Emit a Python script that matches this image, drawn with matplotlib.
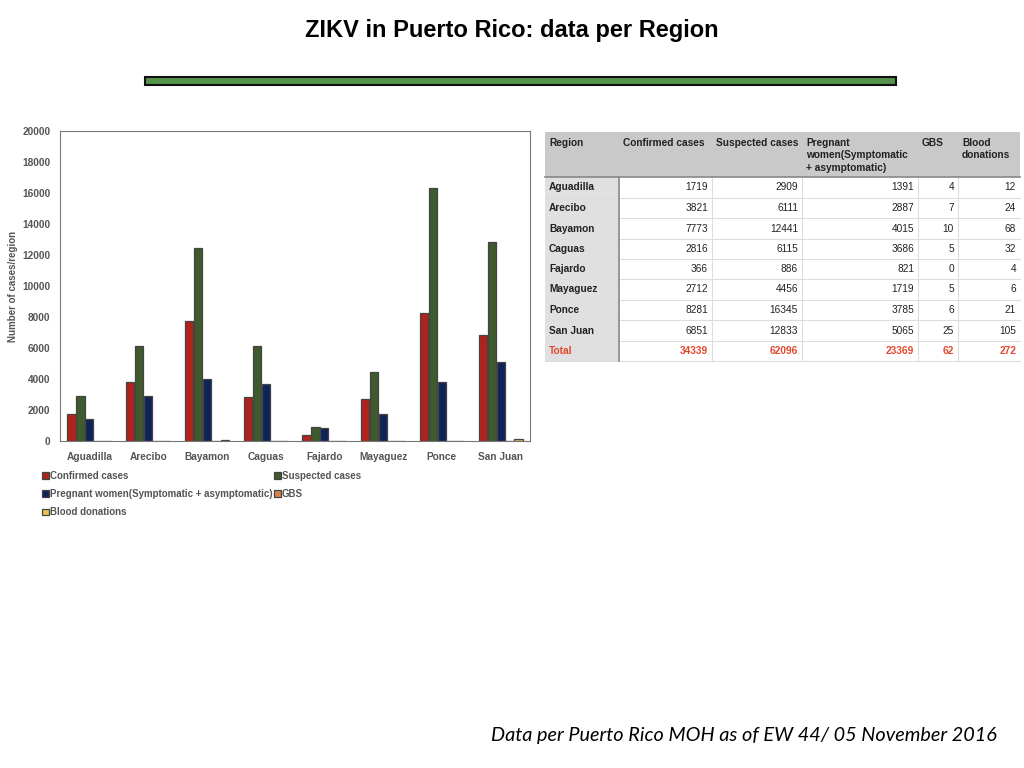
import matplotlib.pyplot as plt
import numpy as np
from matplotlib.patches import Rectangle

regions = ['Aguadilla', 'Arecibo', 'Bayamon', 'Caguas', 'Fajardo',
           'Mayaguez', 'Ponce', 'San Juan']
confirmed = [1719, 3821, 7773, 2816, 366, 2712, 8281, 6851]
suspected = [2909, 6111, 12441, 6115, 886, 4456, 16345, 12833]
pregnant = [1391, 2887, 4015, 3686, 821, 1719, 3785, 5065]
gbs = [4, 7, 10, 5, 0, 5, 6, 25]
blood = [12, 24, 68, 32, 4, 6, 21, 105]

series_names = ['Confirmed cases', 'Suspected cases',
                'Pregnant women(Symptomatic + asymptomatic)', 'GBS',
                'Blood donations']
series = [confirmed, suspected, pregnant, gbs, blood]
colors = ['#b0231c', '#3f5a2c', '#0e2358', '#d9844c', '#e9c450']

table_header = ['Region', 'Confirmed cases', 'Suspected cases',
                'Pregnant\nwomen(Symptomatic\n+ asymptomatic)', 'GBS',
                'Blood\ndonations']
totals = [sum(s) for s in series]

W, H = 1024, 768
plt.rcParams['font.family'] = ['Liberation Sans', 'DejaVu Sans']
fig = plt.figure(figsize=(W / 100, H / 100), dpi=100)

# title and green banner
fig.text(512 / W, 1 - 30 / H, 'ZIKV in Puerto Rico: data per Region',
         ha='center', va='center', fontsize=17, fontweight='bold')
fig.patches.append(Rectangle((145 / W, 1 - 85 / H), 751 / W, 8 / H,
                             transform=fig.transFigure, facecolor='#55924a',
                             edgecolor='#111111', linewidth=1.5))

# bar chart
ax = fig.add_axes([60 / W, 1 - 441 / H, 470 / W, 310 / H])
x = np.arange(len(regions))
bw = 0.14
step = 0.152
for i, (name, vals, c) in enumerate(zip(series_names, series, colors)):
    ax.bar(x + (i - 2) * step, vals, bw, color=c, edgecolor='#444444',
           linewidth=0.9, label=name)
ax.set_xlim(-0.5, len(regions) - 0.5)
ax.set_ylim(0, 20000)
ax.set_yticks(np.arange(0, 20001, 2000))
ax.set_xticks(x)
ax.set_xticklabels(regions)
ax.tick_params(axis='both', length=0, labelsize=7.3, labelcolor='#555555', pad=7)
for lab in ax.get_xticklabels() + ax.get_yticklabels():
    lab.set_fontweight('bold')
ax.tick_params(axis='x', pad=8)
ax.set_ylabel('Number of cases/region', fontsize=7, color='#555555',
              fontweight='bold', labelpad=3)
for sp in ax.spines.values():
    sp.set_color('#777777')
    sp.set_linewidth(0.8)

handles, labels = ax.get_legend_handles_labels()
order = [0, 2, 4, 1, 3]
leg = fig.legend([handles[k] for k in order], [labels[k] for k in order],
                 loc='upper left', bbox_to_anchor=(38 / W, 1 - 467 / H),
                 ncol=2, frameon=False, fontsize=7, handlelength=0.7,
                 handleheight=0.7, handletextpad=0.15, columnspacing=0.1,
                 labelspacing=0.85, borderaxespad=0)
for t in leg.get_texts():
    t.set_color('#555555')
    t.set_fontweight('bold')

# data table
col_edges = [545, 619, 712, 802, 918, 958, 1020]
row_edges = [132, 177, 198, 218, 239, 259, 279, 300, 320, 341, 361]
tax = fig.add_axes([0, 0, 1, 1])
tax.set_xlim(0, W)
tax.set_ylim(H, 0)
tax.axis('off')

tax.add_patch(Rectangle((col_edges[0], row_edges[0]),
                        col_edges[-1] - col_edges[0], row_edges[1] - row_edges[0],
                        facecolor='#c9c9c9', edgecolor='none'))
tax.add_patch(Rectangle((col_edges[0], row_edges[1]),
                        col_edges[1] - col_edges[0], row_edges[-1] - row_edges[1],
                        facecolor='#e0e0e0', edgecolor='none'))
for yy in row_edges[2:]:
    tax.plot([col_edges[0], col_edges[-1]], [yy, yy], color='#dddddd', lw=0.8)
for xx in col_edges[2:-1]:
    tax.plot([xx, xx], [row_edges[1], row_edges[-1]], color='#dddddd', lw=0.8)
tax.plot([col_edges[0], col_edges[-1]], [row_edges[1], row_edges[1]],
         color='#888888', lw=1.2)
tax.plot([col_edges[1], col_edges[1]], [row_edges[1], row_edges[-1]],
         color='#888888', lw=1.2)

for j, h in enumerate(table_header):
    tax.text(col_edges[j] + 4, row_edges[0] + 6, h, ha='left', va='top',
             fontsize=7.3, fontweight='bold', color='#222222', linespacing=1.3)

rows = [[r] + [s[i] for s in series] for i, r in enumerate(regions)]
rows.append(['Total'] + totals)
for i, row in enumerate(rows):
    yc = (row_edges[i + 1] + row_edges[i + 2]) / 2
    clr = '#e2482c' if row[0] == 'Total' else '#222222'
    tax.text(col_edges[0] + 4, yc, row[0], ha='left', va='center',
             fontsize=7.3, fontweight='bold', color=clr)
    for j, v in enumerate(row[1:], start=1):
        tax.text(col_edges[j + 1] - 4, yc, str(v), ha='right', va='center',
                 fontsize=7.3, color=clr,
                 fontweight='bold' if row[0] == 'Total' else 'normal')

# footer
fig.text(997 / W, 1 - 736 / H,
         'Data per Puerto Rico MOH as of EW 44/ 05 November 2016',
         ha='right', va='center', fontsize=14.3, style='italic', family='Lato')

fig.savefig('out.png', dpi=100)
